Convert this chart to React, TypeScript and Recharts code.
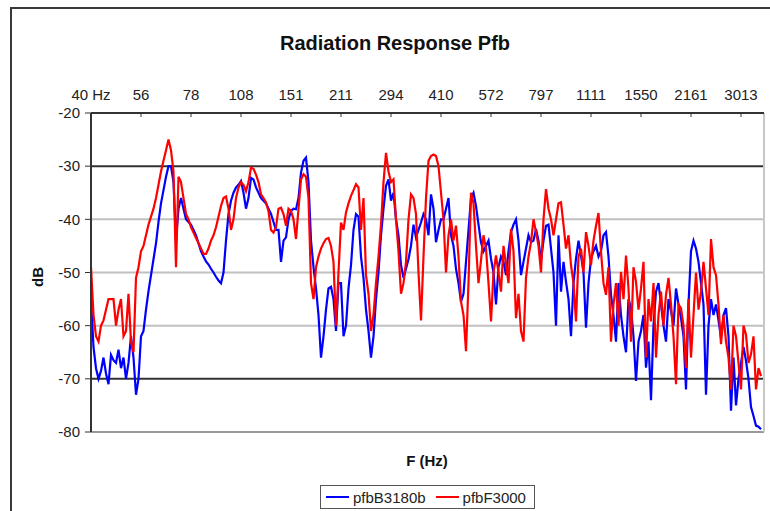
import React from "react";
import { LineChart, Line, XAxis, YAxis, ReferenceLine } from "recharts";

const FONT = '"Liberation Sans", Arial, sans-serif';

// frequency labels, one every 20 points
const TICK_LABELS = ["40 Hz", "56", "78", "108", "151", "211", "294", "410", "572", "797", "1111", "1550", "2161", "3013"];
const POINTS_PER_LABEL = 20;
const X_TICKS = TICK_LABELS.map((_, i) => i * POINTS_PER_LABEL);
const X_MAX = 269.2;

const Y_TICKS = [-80, -70, -60, -50, -40, -30, -20];
const GRID_LIGHT = [-40, -50, -60];
const GRID_DARK = [-30, -70];

// pfbB3180b (dB)
const BLUE = [
  -55, -64, -68, -70, -68.5, -66, -69, -71, -65.5, -66.5,
  -67, -64.5, -68, -66, -70, -67, -62, -66, -73, -70,
  -62, -61, -57, -53.5, -50.5, -47.5, -44.5, -40.5, -37, -34.5,
  -32, -30, -30, -33, -44, -38, -36, -38, -40, -40.5,
  -41, -42, -43, -44.5, -46, -47, -47.9, -48.5, -49.3, -50,
  -50.8, -51.5, -52, -50, -44, -39, -36.5, -35, -34, -33.5,
  -32.8, -35, -38, -36, -32.2, -32.5, -34, -35, -36, -36.5,
  -37, -38, -39, -40.5, -42, -42, -48, -44, -43.4, -40,
  -38.4, -38, -38.1, -36, -31.2, -29, -28.4, -33, -44, -49,
  -53, -58, -66, -62, -57, -53, -52.7, -55, -61, -52,
  -52, -62, -60, -53, -48.6, -42, -39, -39.5, -47, -51,
  -57, -61, -66, -62, -55, -50, -43, -38, -33.7, -32.5,
  -36.5, -35, -40, -43, -48.6, -51, -49.3, -47.5, -45, -41,
  -43.4, -42, -40.6, -39, -40, -43, -35.3, -38, -44.3, -42,
  -40, -40, -38, -36, -43, -45, -49.3, -52, -55.5, -54,
  -48, -42, -36, -35, -37.5, -41, -44.3, -46, -45, -44,
  -47.4, -50, -56, -49, -47, -48, -50.5, -46, -42.4, -41,
  -40, -44, -50.5, -48, -45.5, -43, -44.3, -44, -41.8, -44,
  -47.7, -44, -41.2, -41, -45.5, -50, -60, -43, -53.6, -48,
  -51.7, -55, -62, -52, -47.4, -44, -46.8, -50, -60.4, -52,
  -47.4, -46, -45, -47, -46, -43, -42.4, -47, -54.2, -58,
  -63, -52, -58, -62, -65, -55, -56.7, -62, -70.4, -63,
  -61, -58, -67.9, -63, -74, -60, -53.6, -52, -56, -60,
  -63, -55, -57.3, -60, -53, -56, -58.6, -62, -72, -56,
  -46, -44, -45.5, -48, -52, -56, -73, -60, -55, -58,
  -56, -59, -62.3, -58, -56.7, -62, -76, -66, -75, -70,
  -67, -64, -66.6, -70, -75.3, -77, -78.8, -79, -79.5,
];

// pfbF3000 (dB)
const RED = [
  -49, -58, -62, -63, -60, -59, -57, -55, -55, -55,
  -60, -57, -55, -62, -61, -54, -63, -65, -51, -49,
  -46, -45, -43, -41, -39.5, -38, -36, -33.5, -31, -29,
  -27, -25, -27, -31, -49, -32, -33, -36, -39, -40,
  -41.5, -42.5, -43.5, -44.5, -45.5, -46.5, -46.5, -45.5, -44, -43,
  -41.5, -39.5, -37.5, -36, -35.7, -38, -42, -40, -36, -34,
  -33, -33.5, -34.7, -33, -30.3, -30.5, -31.6, -33, -35.3, -36,
  -36.8, -38.5, -42, -42.5, -41.5, -38, -37.8, -39, -41.2, -38,
  -38.4, -40, -43.7, -38, -32.5, -31.5, -32, -36, -52, -55,
  -49, -47, -45.5, -44.5, -43.7, -43.5, -45, -48, -60, -50,
  -40.6, -42, -38.7, -37, -35.6, -34.5, -33.4, -34, -42, -36,
  -50.5, -54, -61, -58, -52, -47, -41, -33, -27.5, -31,
  -33, -32.5, -40, -46, -54, -52, -48, -40, -35.3, -36,
  -39, -50, -59, -47, -36, -29, -28.1, -27.8, -28.1, -30,
  -35, -40, -50, -43, -40, -44, -41.2, -47, -55.5, -58,
  -64.8, -52, -35, -37, -45, -52, -47.7, -43, -45.5, -52,
  -59.2, -50, -46.8, -50, -53.6, -45, -48.6, -52, -41.8, -46,
  -58.6, -54, -61, -63, -51, -47, -44.3, -40, -42.4, -45,
  -50, -40, -34.3, -38, -40, -43, -40, -37, -36.8, -41,
  -45.5, -43, -48.6, -52, -59.2, -47, -45.5, -50, -42.4, -45,
  -48.6, -44, -41.2, -38.8, -46.1, -52, -54.2, -49, -63, -56,
  -52, -60, -49.9, -55, -46.8, -53, -63, -49, -51.7, -57,
  -53, -48, -66, -55, -59.2, -52, -66, -58, -53.6, -60,
  -54.2, -51, -56, -62, -71, -56, -56.7, -60, -68, -55,
  -66, -58, -50, -57, -53.6, -48, -53, -58, -43.7, -49,
  -50.5, -56, -63.5, -58, -63, -66, -72, -60, -62, -67,
  -72, -60, -61.7, -67, -65.4, -62, -72, -68, -69.5,
];

const SERIES = [
  { key: "b", name: "pfbB3180b", color: "#0000ff" },
  { key: "r", name: "pfbF3000", color: "#ff0000" },
];

const data = BLUE.map((b, i) => ({ idx: i, b, r: RED[i] }));

export default function App() {
  return (
    <div
      style={{
        position: "absolute",
        left: 0,
        top: 0,
        width: 770,
        height: 511,
        overflow: "hidden",
        background: "#fff",
        fontFamily: FONT,
      }}
    >
      <div
        style={{
          position: "absolute",
          left: 10,
          top: 7,
          width: 900,
          height: 700,
          border: "2px solid #3a3a3a",
        }}
      />
      <div
        style={{
          position: "absolute",
          left: 195,
          top: 33,
          width: 400,
          textAlign: "center",
          fontSize: 20,
          lineHeight: "20px",
          fontWeight: "bold",
          color: "#111",
        }}
      >
        Radiation Response Pfb
      </div>
      <div style={{ position: "absolute", left: 0, top: 0 }}>
        <LineChart width={770} height={511} data={data} margin={{ top: 83, right: 6, bottom: 79, left: 31 }}>
          <XAxis
            dataKey="idx"
            type="number"
            orientation="top"
            domain={[0, X_MAX]}
            allowDataOverflow
            ticks={X_TICKS}
            tickFormatter={(v: number) => TICK_LABELS[Math.round(v / POINTS_PER_LABEL)]}
            height={30}
            axisLine={{ stroke: "#333", strokeWidth: 2 }}
            tickLine={{ stroke: "#333" }}
            tickSize={-4}
            tickMargin={17}
            tick={{ fontSize: 15, fill: "#222", fontFamily: FONT }}
          />
          <YAxis
            type="number"
            domain={[-80, -20]}
            ticks={Y_TICKS}
            width={60}
            axisLine={{ stroke: "#333", strokeWidth: 2 }}
            tickLine={{ stroke: "#333" }}
            tickSize={6}
            tickMargin={5}
            tick={{ fontSize: 15, fill: "#222", fontFamily: FONT }}
          />
          {GRID_LIGHT.map((v) => (
            <ReferenceLine key={v} y={v} stroke="#c0c0c0" strokeWidth={2} />
          ))}
          {GRID_DARK.map((v) => (
            <ReferenceLine key={v} y={v} stroke="#333" strokeWidth={2} />
          ))}
          <ReferenceLine y={-80} stroke="#999" strokeWidth={2} />
          <ReferenceLine x={X_MAX} stroke="#c8c8c8" strokeWidth={2} />
          {SERIES.map((s) => (
            <Line
              key={s.key}
              type="linear"
              dataKey={s.key}
              name={s.name}
              stroke={s.color}
              strokeWidth={2.2}
              dot={false}
              isAnimationActive={false}
            />
          ))}
        </LineChart>
      </div>
      <div
        style={{
          position: "absolute",
          left: 18,
          top: 269,
          width: 40,
          height: 16,
          lineHeight: "16px",
          textAlign: "center",
          fontSize: 15,
          fontWeight: "bold",
          color: "#111",
          transform: "rotate(-90deg)",
        }}
      >
        dB
      </div>
      <div
        style={{
          position: "absolute",
          left: 327,
          top: 453,
          width: 200,
          textAlign: "center",
          fontSize: 15,
          lineHeight: "15px",
          fontWeight: "bold",
          color: "#111",
        }}
      >
        F (Hz)
      </div>
      <div
        style={{
          position: "absolute",
          left: 320,
          top: 485,
          width: 213,
          height: 22,
          border: "1px solid #555",
          display: "flex",
          alignItems: "center",
          fontSize: 15,
          color: "#222",
        }}
      >
        {SERIES.map((s, i) => (
          <div key={s.key} style={{ display: "flex", alignItems: "center", marginLeft: i === 0 ? 5 : 10 }}>
            <span style={{ display: "inline-block", width: 23, height: 2, background: s.color }} />
            <span style={{ marginLeft: 4 }}>{s.name}</span>
          </div>
        ))}
      </div>
    </div>
  );
}
